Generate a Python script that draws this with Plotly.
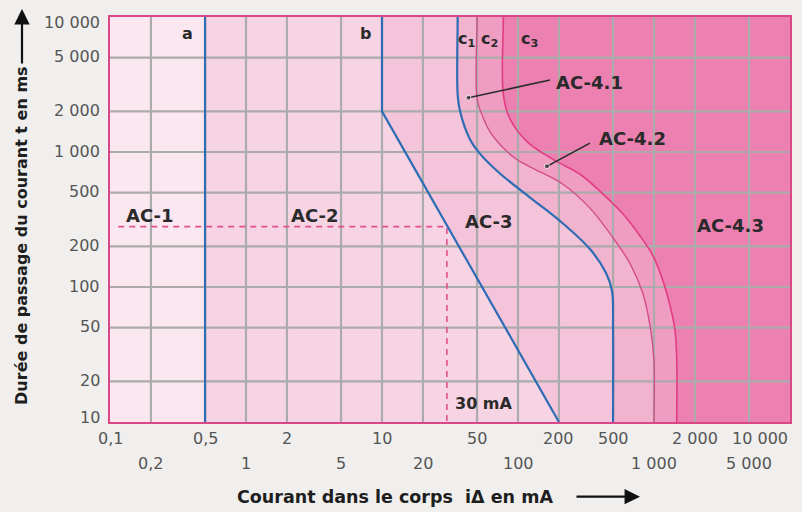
import numpy as np
import plotly.graph_objects as go

# ---------------- data ----------------
x_ticks_row1 = [0.1, 0.5, 2, 10, 50, 200, 500, 2000, 10000]
x_labels_row1 = ["0,1", "0,5", "2", "10", "50", "200", "500", "2 000", "10 000"]
x_ticks_row2 = [0.2, 1, 5, 20, 100, 1000, 5000]
x_labels_row2 = ["0,2", "1", "5", "20", "100", "1 000", "5 000"]
y_ticks = [10, 20, 50, 100, 200, 500, 1000, 2000, 5000, 10000]
y_labels = ["10", "20", "50", "100", "200", "500", "1 000", "2 000", "5 000", "10 000"]
x_grid = [0.2, 0.5, 1, 2, 5, 10, 20, 50, 100, 200, 500, 1000, 2000, 5000]
y_grid = [20, 50, 100, 200, 500, 1000, 2000, 5000]

# boundary curves (current mA, duration ms)
a_x = [0.5, 0.5]
a_y = [10, 10000]
b_x = [10, 10, 200]
b_y = [10000, 2000, 10]
c1_x = [36, 36, 37.5, 44, 53, 74, 122, 204, 338, 444, 491, 500, 500]
c1_y = [10000, 2650, 2000, 1260, 960, 690, 462, 308, 191, 127, 94, 50, 10]
c2_x = [50, 50, 54, 62, 76, 98, 129, 214, 338, 500, 667, 830, 940, 1000, 1000]
c2_y = [10000, 2480, 1920, 1420, 1100, 880, 757, 577, 384, 231, 149, 89, 50, 28.6, 10]
c3_x = [78, 78, 87, 116, 181, 286, 422, 592, 789, 984, 1164, 1312, 1427, 1470, 1470]
c3_y = [10000, 2660, 1770, 1200, 881, 684, 487, 347, 239, 170, 111, 73, 48, 28.6, 10]

threshold_ma = 30
threshold_ms = 280
dash_start_ma = 0.115

zone_names = ["AC-1", "AC-2", "AC-3", "AC-4.1", "AC-4.2", "AC-4.3"]
zone_label_x = [0.197, 3.2, 61, 333, 689, 3680]
zone_label_y = [338, 338, 308, 3290, 1259, 285]
zone_colors = ["#fbe7f0", "#f7d4e4", "#f4c4da", "#f2b3cf", "#ef9dc1", "#ec80b0"]

curve_names = ["a", "b", "c<sub>1</sub>", "c<sub>2</sub>", "c<sub>3</sub>"]
curve_label_x = [0.37, 7.6, 41.5, 61.3, 122]
curve_label_y = [7500, 7500, 6870, 6870, 6870]

leader41 = dict(x=[43.2, 172], y=[2523, 3413])
leader42 = dict(x=[163, 338], y=[783, 1164])

# ---------------- figure ----------------
LO, HI, XR = 3, 30000, 30000
fig = go.Figure()


def ext(cx, cy):
    return [cx[0]] + cx + [cx[-1]], [HI] + cy + [LO]


def fill_right(cx, cy, color, shape):
    ex, ey = ext(cx, cy)
    fig.add_trace(go.Scatter(x=ex + [XR, XR], y=ey + [LO, HI], mode="lines",
                             fill="toself", fillcolor=color,
                             line=dict(width=0, shape=shape), hoverinfo="skip",
                             showlegend=False))


fill_right(a_x[::-1], a_y[::-1], zone_colors[1], "linear")
fill_right(b_x, b_y, zone_colors[2], "linear")
fill_right(c1_x, c1_y, zone_colors[3], "spline")
fill_right(c2_x, c2_y, zone_colors[4], "spline")
fill_right(c3_x, c3_y, zone_colors[5], "spline")

# grid lines on top of the fills
gx, gy = [], []
for v in x_grid:
    gx += [v, v, None]
    gy += [10, 10000, None]
for v in y_grid:
    gx += [0.1, 10000, None]
    gy += [v, v, None]
fig.add_trace(go.Scatter(x=gx, y=gy, mode="lines", line=dict(color="#ababab", width=2.2),
                         hoverinfo="skip", showlegend=False))

# dashed 30 mA guide
fig.add_trace(go.Scatter(x=[dash_start_ma, threshold_ma, threshold_ma],
                         y=[threshold_ms, threshold_ms, 10], mode="lines",
                         line=dict(color="#e0508f", width=1.6, dash="6px,5px"),
                         hoverinfo="skip", showlegend=False))

# boundary lines
blue = "#2e6cb3"
fig.add_trace(go.Scatter(x=a_x, y=a_y, mode="lines", line=dict(color=blue, width=2.2),
                         showlegend=False))
fig.add_trace(go.Scatter(x=b_x, y=b_y, mode="lines", line=dict(color=blue, width=2.2),
                         showlegend=False))
for cx, cy, col, w in [(c1_x, c1_y, blue, 2.2), (c2_x, c2_y, "#d04f8a", 1.4),
                       (c3_x, c3_y, "#e23c83", 1.6)]:
    ex, ey = ext(cx, cy)
    fig.add_trace(go.Scatter(x=ex, y=ey, mode="lines",
                             line=dict(color=col, width=w, shape="spline"),
                             showlegend=False))

# leader lines
for ld in (leader41, leader42):
    fig.add_trace(go.Scatter(x=ld["x"], y=ld["y"], mode="lines+markers",
                             line=dict(color="#2a2a2a", width=1.6),
                             marker=dict(size=[5, 0], color="#2a2a2a"),
                             showlegend=False))

FONT = "DejaVu Sans"
ann = []
lab_font = dict(family=FONT, size=18, color="#2a2a2a")
for name, x, y in zip(zone_names, zone_label_x, zone_label_y):
    ann.append(dict(x=np.log10(x), y=np.log10(y), xref="x", yref="y", text="<b>%s</b>" % name,
                    showarrow=False, font=lab_font))
for name, x, y in zip(curve_names, curve_label_x, curve_label_y):
    ann.append(dict(x=np.log10(x), y=np.log10(y), xref="x", yref="y", text="<b>%s</b>" % name,
                    showarrow=False, font=dict(family=FONT, size=16, color="#2a2a2a")))
ann.append(dict(x=np.log10(33), y=np.log10(13.6), xref="x", yref="y", text="<b>30 mA</b>",
                xanchor="left", showarrow=False, font=dict(family=FONT, size=16, color="#2a2a2a")))

tick_font = dict(family=FONT, size=16, color="#555555")
for v, t in zip(x_ticks_row1, x_labels_row1):
    ann.append(dict(x=np.log10(v), y=-0.0405, xref="x", yref="paper", text=t, showarrow=False,
                    xanchor="right" if v == x_ticks_row1[-1] else "center", yanchor="middle",
                    font=tick_font))
for v, t in zip(x_ticks_row2, x_labels_row2):
    ann.append(dict(x=np.log10(v), y=-0.1032, xref="x", yref="paper", text=t, showarrow=False,
                    xanchor="center", yanchor="middle", font=tick_font))
for v, t in zip(y_ticks, y_labels):
    shift = 5 if v == y_ticks[0] else (-5 if v == y_ticks[-1] else 1)
    ann.append(dict(x=-0.0118, y=np.log10(v), xref="paper", yref="y", text=t, showarrow=False,
                    xanchor="right", yanchor="middle", yshift=shift, font=tick_font))

title_font = dict(family=FONT, size=16, color="#1e1e1e")
ann.append(dict(x=-0.1294, y=0.4595, xref="paper", yref="paper", textangle=-90,
                xanchor="center", yanchor="middle",
                text="<b>Durée de passage du courant t en ms</b>", showarrow=False,
                font=title_font))
ann.append(dict(x=-0.1294, y=1.0221, xref="paper", yref="paper", text="", showarrow=True,
                ax=0, ay=57, arrowhead=2, arrowsize=1.4, arrowwidth=2.2, arrowcolor="#111111"))
ann.append(dict(x=0.419, y=-0.1843, xref="paper", yref="paper",
                xanchor="center", yanchor="middle",
                text="<b>Courant dans le corps  i\u0394 en mA</b>", showarrow=False,
                font=dict(family=FONT, size=17.5, color="#1e1e1e")))
ann.append(dict(x=0.7794, y=-0.1843, xref="paper", yref="paper", text="", showarrow=True,
                ax=-65, ay=0, arrowhead=2, arrowsize=1.4, arrowwidth=2.2, arrowcolor="#111111"))

fig.update_layout(
    width=794, height=504,
    margin=dict(l=102, r=12, t=7, b=90),
    paper_bgcolor="#f0efed", plot_bgcolor=zone_colors[0],
    annotations=ann, showlegend=False,
)
fig.update_xaxes(type="log", range=[-1, 4], showgrid=False, zeroline=False,
                 showticklabels=False, ticks="", showline=True, mirror=True,
                 linecolor="#d94787", linewidth=2)
fig.update_yaxes(type="log", range=[1, 4], showgrid=False, zeroline=False,
                 showticklabels=False, ticks="", showline=True, mirror=True,
                 linecolor="#d94787", linewidth=2)

fig.write_html("out.html", post_script="document.body.style.background='#f0efed';")
